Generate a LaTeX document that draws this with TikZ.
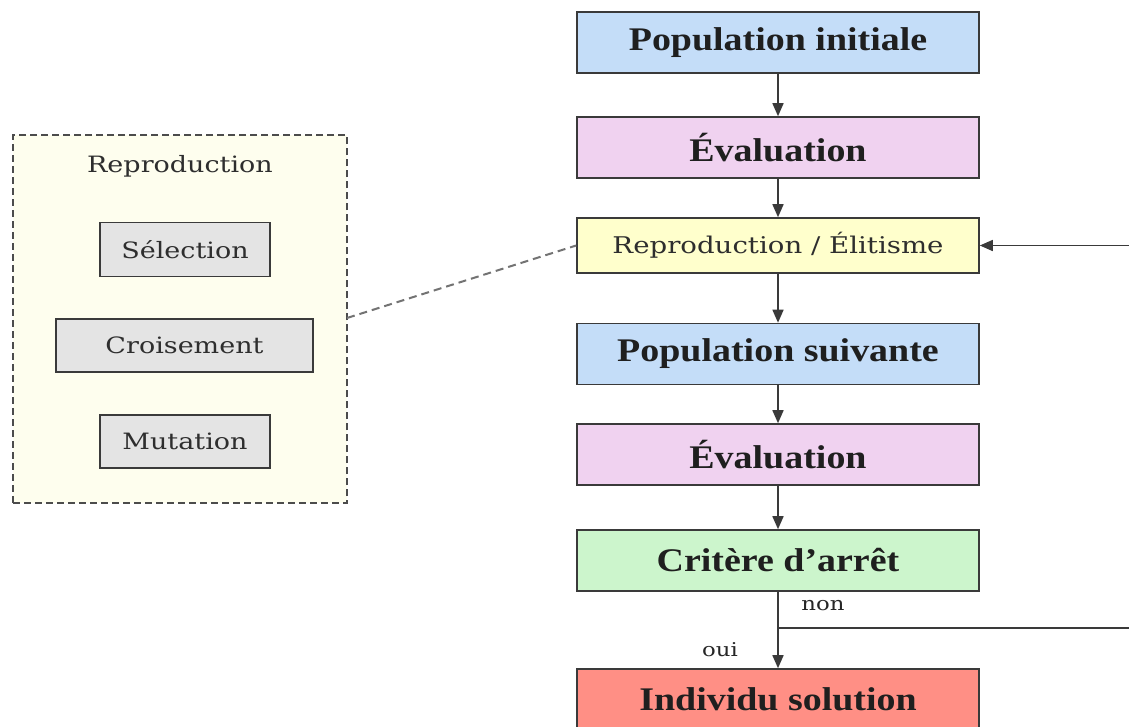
\documentclass[tikz,border=0pt]{standalone}
\usepackage{fontspec}
\setmainfont{Liberation Serif}
\newfontfamily\boldt[FakeStretch=1.15]{Liberation Serif}
\newfontfamily\slab[FakeStretch=1.2]{DejaVu Serif}
\usetikzlibrary{arrows.meta}
\definecolor{cblue}{HTML}{C4DDF8}
\definecolor{cpink}{HTML}{F0D2F0}
\definecolor{cyel}{HTML}{FFFFCC}
\definecolor{cgreen}{HTML}{CCF5CC}
\definecolor{cred}{HTML}{FF8F85}
\definecolor{cgray}{HTML}{E4E4E4}
\definecolor{cframe}{HTML}{FEFEEE}
\definecolor{cline}{HTML}{3A3A3A}
\tikzset{
  mainbox/.style={draw=cline, line width=1.6pt, minimum width=402pt, minimum height=61pt, inner sep=0pt,
    font=\boldt\fontsize{33}{38}\selectfont\bfseries, text=black!88},
  smallbox/.style={draw=cline, line width=1.6pt, minimum height=55pt, inner sep=0pt, font=\slab\fontsize{23}{27}\selectfont, text=black!82},
  subbox/.style={draw=cline, line width=1.5pt, fill=cgray, minimum height=54pt, inner sep=0pt, font=\slab\fontsize{22.5}{26}\selectfont, text=black!82},
  arr/.style={draw=cline, line width=1.6pt, -{Triangle[length=13pt,width=11pt]}},
  lbl/.style={font=\slab\fontsize{19}{23}\selectfont, text=black!85, inner sep=0pt}
}
\begin{document}
\begin{tikzpicture}[x=1pt,y=-1pt]
\useasboundingbox[fill=white] (0,0) rectangle (1129,726);
% left frame
\node[draw=black!70, dashed, dash pattern=on 7pt off 4pt, line width=1.8pt, fill=cframe,
  minimum width=334pt, minimum height=368pt, inner sep=0pt] (frame) at (180,319) {};
\node[font=\slab\fontsize{22.5}{26}\selectfont, text=black!82] (rtitle) at (180,166) {Reproduction};
\node[subbox, minimum width=170pt] (sel) at (185,249.5) {Sélection};
\node[subbox, minimum width=257pt, minimum height=53pt] (cro) at (184.5,345.5) {Croisement};
\node[subbox, minimum width=170pt, minimum height=53pt] (mut) at (185,441.5) {Mutation};
% main column
\node[mainbox, fill=cblue] (pi) at (778,42.5) {Population initiale};
\node[mainbox, fill=cpink] (ev1) at (778,147.5) {Évaluation};
\node[smallbox, fill=cyel, minimum width=402pt] (rep) at (778,245.5) {Reproduction / Élitisme};
\node[mainbox, fill=cblue] (ps) at (778,354) {Population suivante};
\node[mainbox, fill=cpink] (ev2) at (778,454.5) {Évaluation};
\node[mainbox, fill=cgreen] (crit) at (778,560.5) {Critère d’arrêt};
\node[mainbox, fill=cred] (ind) at (778,699.5) {Individu solution};
% connectors
\draw[arr] (pi) -- (ev1);
\draw[arr] (ev1) -- (rep);
\draw[arr] (rep) -- (ps);
\draw[arr] (ps) -- (ev2);
\draw[arr] (ev2) -- (crit);
\draw[arr] (crit) -- (ind);
\coordinate (split) at (778,628);
\coordinate (far) at (1140,628);
\draw[arr] (split) -- (far) |- (rep.east);
\node[lbl] (non) at (823,606) {non};
\node[lbl] (oui) at (720,650) {oui};
% dashed link
\coordinate (fe) at (347,318);
\draw[draw=black!55, line width=2pt, dash pattern=on 8pt off 5pt] (fe) -- (rep.west);
\end{tikzpicture}
\end{document}
